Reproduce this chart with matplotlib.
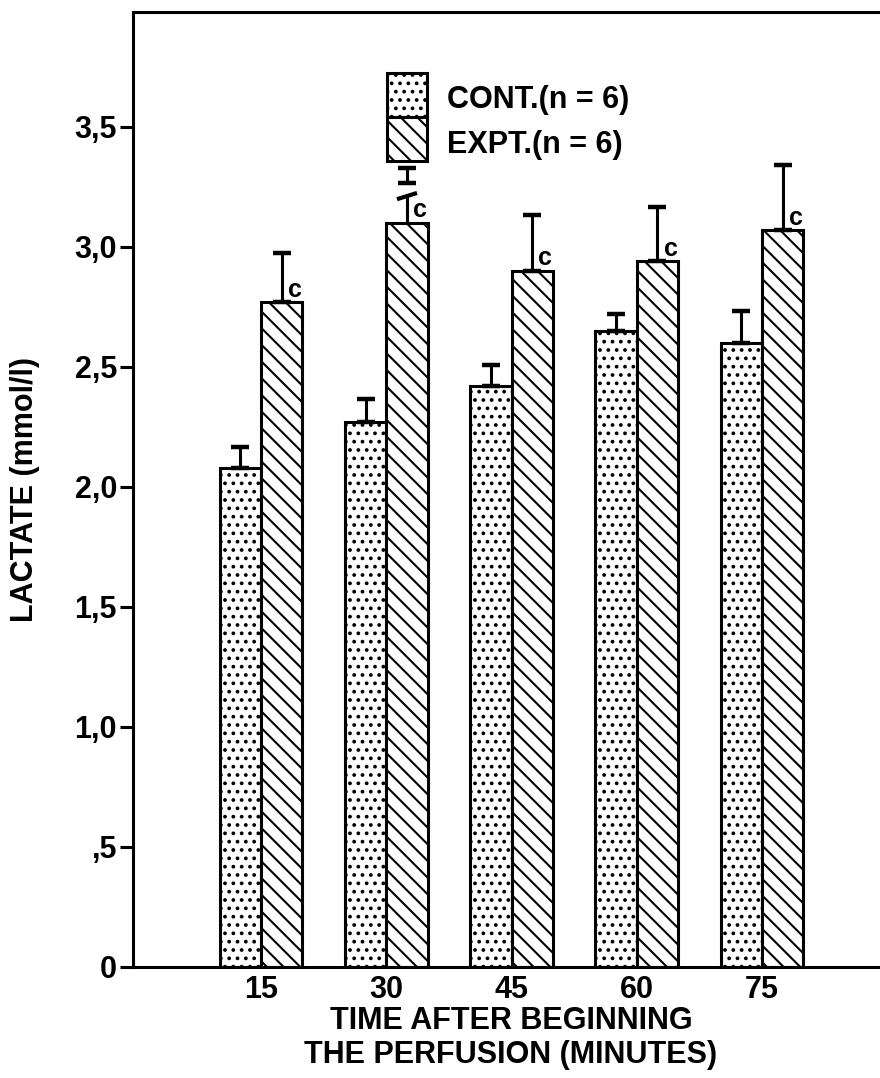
import matplotlib
matplotlib.use('Agg')
import matplotlib.pyplot as plt
import numpy as np
from matplotlib.patches import Rectangle

plt.rcParams['font.family'] = ['Liberation Sans', 'DejaVu Sans']
plt.rcParams['font.weight'] = 'bold'
plt.rcParams['hatch.linewidth'] = 1.5

# ---- data ----
TIMES = ['15', '30', '45', '60', '75']
CONT = [2.08, 2.27, 2.42, 2.65, 2.60]
CONT_ERR = [0.085, 0.095, 0.09, 0.07, 0.135]
EXPT = [2.77, 3.10, 2.90, 2.94, 3.07]
EXPT_ERR = [0.205, 0.23, 0.233, 0.225, 0.27]
EXPT_SIG = ['c', 'c', 'c', 'c', 'c']
YTICKS = [0, 0.5, 1.0, 1.5, 2.0, 2.5, 3.0, 3.5]
YTICKLABELS = ['0', ',5', '1,0', '1,5', '2,0', '2,5', '3,0', '3,5']
LEGEND_LABELS = ['CONT.(n = 6)', 'EXPT.(n = 6)']
BREAK_IDX = 1            # error bar drawn with an axis break
BREAK_LOW, BREAK_HIGH = 3.212, 3.267

# ---- figure ----
fig = plt.figure(figsize=(8.8, 10.78), dpi=100)
ax = fig.add_axes([133 / 880, 1 - 967 / 1078, 1 - 133 / 880, (967 - 12) / 1078])

x = np.arange(len(TIMES))
w = 0.331
LW = 2.2

ax.bar(x - w / 2, CONT, w, facecolor='white', edgecolor='black',
       linewidth=LW, hatch='..', zorder=2)
ax.bar(x + w / 2, EXPT, w, facecolor='white', edgecolor='black',
       linewidth=LW, hatch='\\\\', zorder=2)

ekw = dict(fmt='none', ecolor='black', elinewidth=2.2, capsize=6.5,
           capthick=3.2, zorder=3)
ax.errorbar(x - w / 2, CONT, yerr=[np.zeros(len(CONT)), CONT_ERR], **ekw)

normal = [i for i in range(len(EXPT)) if i != BREAK_IDX]
ax.errorbar(x[normal] + w / 2, [EXPT[i] for i in normal],
            yerr=[np.zeros(len(normal)), [EXPT_ERR[i] for i in normal]], **ekw)

# broken error bar
xb = x[BREAK_IDX] + w / 2
top = EXPT[BREAK_IDX] + EXPT_ERR[BREAK_IDX]
ax.plot([xb, xb], [EXPT[BREAK_IDX], BREAK_LOW], color='black', lw=2.2,
        solid_capstyle='butt', zorder=3)
ax.plot([xb - 0.08, xb + 0.08], [BREAK_LOW - 0.013, BREAK_LOW + 0.013],
        color='black', lw=3, solid_capstyle='butt', zorder=3)
mid = (BREAK_HIGH + top) / 2
ax.errorbar([xb], [mid], yerr=[[(top - BREAK_HIGH) / 2], [(top - BREAK_HIGH) / 2]],
            **ekw)

# significance letters
for i, s in enumerate(EXPT_SIG):
    ax.annotate(s, xy=(x[i] + w / 2, EXPT[i]), xytext=(4.5, 4),
                textcoords='offset points', ha='left', va='baseline',
                fontsize=18, fontweight='bold')

# legend (boxes stacked)
bx, bw, bh = 0.340, 0.0535, 0.046
ax.add_patch(Rectangle((bx, 0.890), bw, bh, transform=ax.transAxes,
                       facecolor='white', edgecolor='black', linewidth=LW,
                       hatch='..', zorder=4))
ax.add_patch(Rectangle((bx, 0.890 - bh), bw, bh, transform=ax.transAxes,
                       facecolor='white', edgecolor='black', linewidth=LW,
                       hatch='\\\\', zorder=4))
ax.text(0.420, 0.908, LEGEND_LABELS[0], transform=ax.transAxes, va='center',
        ha='left', fontsize=22, fontweight='bold')
ax.text(0.420, 0.861, LEGEND_LABELS[1], transform=ax.transAxes, va='center',
        ha='left', fontsize=22, fontweight='bold')

# axes styling
ax.set_xlim(-1.022, 4.942)
ax.set_ylim(0, 3.979)
ax.set_xticks(x)
ax.set_xticklabels(TIMES)
ax.set_yticks(YTICKS)
ax.set_yticklabels(YTICKLABELS)
ax.tick_params(axis='y', length=9.5, width=2.2, pad=2, labelsize=22)
ax.tick_params(axis='x', length=0, pad=6, labelsize=22)
for s in ['left', 'bottom', 'top']:
    ax.spines[s].set_linewidth(2.2)
ax.spines['right'].set_visible(False)

ax.set_ylabel('LACTATE (mmol/l)', fontsize=22, fontweight='bold')
ax.yaxis.set_label_coords(-0.1245, 0.5)
ax.set_xlabel('TIME AFTER BEGINNING\nTHE PERFUSION (MINUTES)', fontsize=22,
              fontweight='bold', linespacing=1.15, va='top')
ax.xaxis.set_label_coords(0.506, -0.041)

fig.savefig('out.png', dpi=100)
